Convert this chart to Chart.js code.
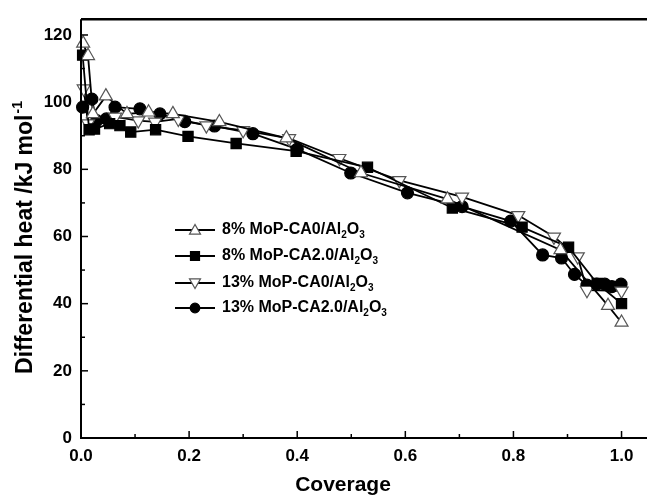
<!DOCTYPE html>
<html>
<head>
<meta charset="utf-8">
<script src="https://cdn.jsdelivr.net/npm/chart.js@4.4.1/dist/chart.umd.min.js"></script>
<style>
  html, body { margin: 0; padding: 0; background: #fff; }
  #wrap { width: 647px; height: 496px; }
</style>
</head>
<body>
<div id="wrap"><canvas id="c"></canvas></div>
<script>
// series names (digits after "/" are drawn as subscripts)
const seriesNames = ['8% MoP-CA0/Al2O3', '8% MoP-CA2.0/Al2O3', '13% MoP-CA0/Al2O3', '13% MoP-CA2.0/Al2O3'];

// 8% MoP-CA0/Al2O3 (open triangle up)
const coverageA = [0.004, 0.013, 0.022, 0.046, 0.085, 0.125, 0.17, 0.256, 0.38, 0.518, 0.678, 0.887, 0.975, 1.0];
const heatA     = [117.5, 113.8, 96.5, 101.8, 96.5, 97.0, 96.5, 94.1, 89.3, 78.9, 71.1, 56.0, 39.4, 34.4];

// 8% MoP-CA2.0/Al2O3 (filled square)
const coverageB = [0.003, 0.015, 0.025, 0.053, 0.072, 0.092, 0.138, 0.198, 0.287, 0.398, 0.53, 0.687, 0.816, 0.902, 0.955, 1.0];
const heatB     = [114.0, 91.8, 92.0, 93.6, 93.0, 91.1, 91.8, 89.8, 87.7, 85.4, 80.6, 68.5, 62.8, 56.8, 46.0, 40.0];

// 13% MoP-CA0/Al2O3 (open triangle down)
const coverageC = [0.005, 0.013, 0.063, 0.106, 0.137, 0.18, 0.232, 0.30, 0.385, 0.478, 0.589, 0.705, 0.809, 0.875, 0.919, 0.936, 1.0];
const heatC     = [104.0, 93.6, 95.6, 94.5, 94.1, 95.0, 93.0, 91.6, 89.2, 83.3, 76.7, 71.8, 66.3, 59.9, 54.0, 44.0, 43.8];

// 13% MoP-CA2.0/Al2O3 (filled circle)
const coverageD = [0.003, 0.02, 0.029, 0.047, 0.063, 0.109, 0.146, 0.192, 0.247, 0.318, 0.40, 0.499, 0.604, 0.705, 0.795, 0.854, 0.889, 0.913, 0.936, 0.954, 0.969, 0.982, 0.999];
const heatD     = [98.5, 100.9, 94.5, 95.0, 98.5, 98.0, 96.5, 94.2, 92.9, 90.6, 86.0, 78.9, 73.0, 68.9, 64.6, 54.5, 53.6, 48.7, 45.5, 45.8, 45.8, 45.1, 45.8];

const xTicks = [0, 0.1, 0.2, 0.3, 0.4, 0.5, 0.6, 0.7, 0.8, 0.9, 1.0];
const yTicks = [0, 10, 20, 30, 40, 50, 60, 70, 80, 90, 100, 110, 120];

const FONT = "'Liberation Sans', Arial, sans-serif";

function pts(xs, ys) {
  return xs.map((x, i) => ({ x: x, y: ys[i] }));
}

const styles = [
  { pointStyle: 'triangle', rotation: 0,   fill: '#fff', edge: '#555', r: 7.5 },
  { pointStyle: 'rect',     rotation: 0,   fill: '#000', edge: '#000', r: 7.2 },
  { pointStyle: 'triangle', rotation: 180, fill: '#fff', edge: '#555', r: 7.5 },
  { pointStyle: 'circle',   rotation: 0,   fill: '#000', edge: '#000', r: 6 }
];

const seriesData = [pts(coverageA, heatA), pts(coverageB, heatB), pts(coverageC, heatC), pts(coverageD, heatD)];

const datasets = seriesData.map((d, i) => ({
  label: seriesNames[i],
  data: d,
  showLine: true,
  borderColor: '#000',
  borderWidth: 1.8,
  pointStyle: styles[i].pointStyle,
  rotation: styles[i].rotation,
  pointRadius: styles[i].r,
  pointBackgroundColor: styles[i].fill,
  pointBorderColor: styles[i].edge,
  pointBorderWidth: 1.2,
  clip: false
}));

// draw a label where digits after '/' are subscripts
function drawSubText(ctx, text, x, y, size) {
  const slash = text.indexOf('/');
  let pos = x;
  for (let i = 0; i < text.length; i++) {
    const ch = text[i];
    const sub = slash >= 0 && i > slash && /[0-9]/.test(ch);
    ctx.font = 'bold ' + (sub ? Math.round(size * 0.65) : size) + 'px ' + FONT;
    ctx.fillText(ch, pos, sub ? y + size * 0.3 : y);
    pos += ctx.measureText(ch).width;
  }
}

const decor = {
  id: 'decor',
  afterDraw(chart) {
    const ctx = chart.ctx;
    const xs = chart.scales.x, ys = chart.scales.y;
    const a = chart.chartArea;
    ctx.save();
    ctx.strokeStyle = '#000';
    ctx.fillStyle = '#000';

    // frame (right side is outside the picture)
    ctx.lineWidth = 2;
    ctx.beginPath();
    ctx.moveTo(a.left, a.top); ctx.lineTo(a.left, a.bottom); ctx.lineTo(chart.width, a.bottom);
    ctx.stroke();
    ctx.lineWidth = 2.5;
    ctx.beginPath();
    ctx.moveTo(a.left, a.top); ctx.lineTo(chart.width, a.top);
    ctx.stroke();

    // inward ticks
    ctx.lineWidth = 1.5;
    xTicks.forEach((v, i) => {
      const px = xs.getPixelForValue(v);
      const len = i % 2 === 0 ? 7 : 4;
      ctx.beginPath(); ctx.moveTo(px, a.bottom); ctx.lineTo(px, a.bottom - len); ctx.stroke();
    });
    yTicks.forEach((v, i) => {
      const py = ys.getPixelForValue(v);
      const len = i % 2 === 0 ? 7 : 4;
      ctx.beginPath(); ctx.moveTo(a.left, py); ctx.lineTo(a.left + len, py); ctx.stroke();
    });

    // axis titles
    ctx.textAlign = 'center';
    ctx.textBaseline = 'middle';
    ctx.font = 'bold 21px ' + FONT;
    ctx.fillText('Coverage', 343, 485);

    ctx.save();
    ctx.translate(26, 238);
    ctx.rotate(-Math.PI / 2);
    const main = 'Differential heat /kJ mol';
    ctx.font = 'bold 23px ' + FONT;
    const w1 = ctx.measureText(main).width;
    ctx.font = 'bold 14px ' + FONT;
    const w2 = ctx.measureText('-1').width;
    const start = -(w1 + w2) / 2;
    ctx.textAlign = 'left';
    ctx.font = 'bold 23px ' + FONT;
    ctx.fillText(main, start, 0);
    ctx.font = 'bold 14px ' + FONT;
    ctx.fillText('-1', start + w1 + 1, -8);
    ctx.restore();

    // legend
    const rows = [230, 256, 283, 308];
    ctx.textAlign = 'left';
    ctx.textBaseline = 'middle';
    rows.forEach((ry, i) => {
      ctx.strokeStyle = '#000';
      ctx.lineWidth = 2;
      ctx.beginPath(); ctx.moveTo(175, ry); ctx.lineTo(215, ry); ctx.stroke();
      ctx.fillStyle = styles[i].fill;
      ctx.strokeStyle = styles[i].edge;
      ctx.lineWidth = 1.2;
      ctx.beginPath();
      if (styles[i].pointStyle === 'triangle') {
        const r = 5.5, dir = styles[i].rotation ? -1 : 1;
        ctx.moveTo(195, ry - dir * r);
        ctx.lineTo(195 - r, ry + dir * r * 0.75);
        ctx.lineTo(195 + r, ry + dir * r * 0.75);
        ctx.closePath();
      } else if (styles[i].pointStyle === 'rect') {
        ctx.rect(190.5, ry - 4.5, 9, 9);
      } else {
        ctx.arc(195, ry, 4.8, 0, Math.PI * 2);
      }
      ctx.fill(); ctx.stroke();
      ctx.fillStyle = '#000';
      drawSubText(ctx, seriesNames[i], 222, ry, 16);
    });
    ctx.restore();
  }
};

new Chart(document.getElementById('c'), {
  type: 'scatter',
  data: { datasets: datasets },
  options: {
    responsive: true,
    maintainAspectRatio: false,
    animation: false,
    layout: { padding: { top: 12, right: 0, left: 0, bottom: 0 } },
    plugins: { legend: { display: false }, tooltip: { enabled: false } },
    scales: {
      x: {
        type: 'linear',
        min: 0,
        max: 1.031,
        afterFit: s => { s.height = 58; },
        grid: { display: false, drawTicks: false },
        border: { display: false },
        ticks: {
          stepSize: 0.1,
          includeBounds: false,
          padding: 8,
          color: '#000',
          font: { family: FONT, size: 17, weight: 'bold' },
          maxRotation: 0,
          autoSkip: false,
          callback: v => (Math.round(v * 10) % 2 === 0 ? v.toFixed(1) : '')
        }
      },
      y: {
        min: 0,
        max: 124.7,
        afterFit: s => { s.width = 81; },
        grid: { display: false, drawTicks: false },
        border: { display: false },
        ticks: {
          stepSize: 10,
          includeBounds: false,
          padding: 9,
          color: '#000',
          font: { family: FONT, size: 17, weight: 'bold' },
          autoSkip: false,
          callback: v => (Math.round(v) % 20 === 0 ? String(v) : '')
        }
      }
    }
  },
  plugins: [decor]
});
</script>
</body>
</html>
